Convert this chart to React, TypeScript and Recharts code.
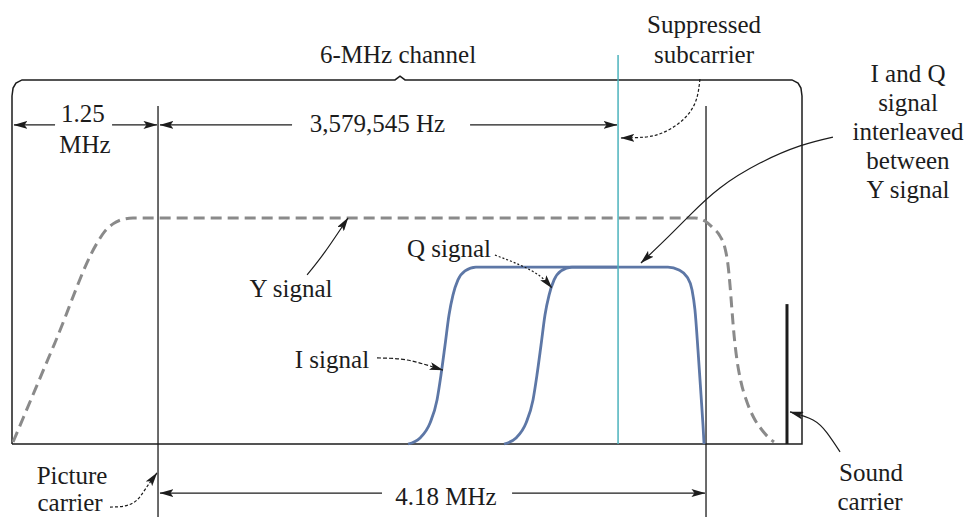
import React from "react";
import { ComposedChart, Line, Scatter, XAxis, YAxis } from "recharts";

type Pt = [number, number];

// x: frequency in MHz as drawn (0 = channel lower edge), y: relative amplitude
const lumaSignal: Pt[] = [
  [0.008, 0.009], [0.327, 0.449], [0.646, 0.889], [0.706, 0.942], [0.767, 0.974],
  [0.835, 0.993], [0.919, 1.0], [5.187, 1.0], [5.263, 0.987], [5.324, 0.956],
  [5.377, 0.92], [5.415, 0.867], [5.438, 0.792], [5.453, 0.704], [5.468, 0.593],
  [5.484, 0.482], [5.506, 0.372], [5.537, 0.274], [5.582, 0.186], [5.635, 0.115],
  [5.696, 0.062], [5.749, 0.027], [5.787, 0.009],
];

const iSignal: Pt[] = [
  [3.008, 0], [3.099, 0.027], [3.175, 0.093], [3.228, 0.195], [3.258, 0.305],
  [3.289, 0.438], [3.319, 0.571], [3.349, 0.659], [3.387, 0.726], [3.441, 0.766],
  [3.524, 0.783], [4.982, 0.783], [5.066, 0.77], [5.127, 0.739], [5.165, 0.681],
  [5.187, 0.593], [5.21, 0.416], [5.233, 0.217], [5.248, 0.084], [5.256, 0],
];

const qSignal: Pt[] = [
  [3.737, 0], [3.828, 0.027], [3.904, 0.093], [3.957, 0.195], [3.987, 0.305],
  [4.018, 0.438], [4.048, 0.571], [4.079, 0.659], [4.117, 0.726], [4.17, 0.766],
  [4.253, 0.783], [4.6, 0.783],
];

const channelFrame: Pt[] = [
  [0, 0], [0, 1.54], [0.008, 1.575], [0.03, 1.597], [0.076, 1.611], [2.909, 1.611],
  [2.947, 1.628], [2.985, 1.611], [5.924, 1.611], [5.97, 1.597], [5.992, 1.575],
  [6, 1.54], [6, 0], [0, 0],
];

const pictureCarrier: Pt[] = [[1.109, 1.496], [1.109, -0.323]];
const bandEdge: Pt[] = [[5.271, 1.496], [5.271, -0.323]];
const subcarrier: Pt[] = [[4.603, 0], [4.603, 1.721]];
const soundCarrier: Pt[] = [[5.886, 0], [5.886, 0.619]];

// dimension arrows (each runs from the label toward its tip)
const dimensionArrows: Pt[][] = [
  [[0.327, 1.412], [0.015, 1.412]],
  [[0.76, 1.412], [1.101, 1.412]],
  [[2.127, 1.412], [1.124, 1.412]],
  [[3.479, 1.412], [4.595, 1.412]],
  [[2.81, -0.217], [1.124, -0.217]],
  [[3.798, -0.217], [5.263, -0.217]],
];

// callout arrows
const subcarrierPointer: Pt[] = [
  [5.225, 1.615], [5.203, 1.535], [5.149, 1.469], [5.058, 1.416], [4.937, 1.376],
  [4.808, 1.358], [4.625, 1.354],
];
const interleavedPointer: Pt[] = [
  [6.235, 1.358], [5.985, 1.319], [5.681, 1.243], [5.377, 1.133], [5.149, 1.013],
  [4.96, 0.903], [4.777, 0.801],
];
const lumaPointer: Pt[] = [[2.241, 0.748], [2.377, 0.85], [2.552, 1.0]];
const qPointer: Pt[] = [[3.668, 0.836], [3.858, 0.792], [4.01, 0.743], [4.101, 0.69]];
const iPointer: Pt[] = [[2.772, 0.381], [2.947, 0.376], [3.099, 0.358], [3.273, 0.327]];
const picturePointer: Pt[] = [
  [0.744, -0.279], [0.858, -0.274], [0.949, -0.248], [1.018, -0.195], [1.101, -0.128],
];
const soundPointer: Pt[] = [[6.289, -0.035], [6.19, 0.049], [6.084, 0.106], [5.909, 0.142]];

const labels: { text: string; f: number; a: number }[] = [
  { text: "6-MHz channel", f: 2.932, a: 1.686 },
  { text: "1.25", f: 0.539, a: 1.425 },
  { text: "MHz", f: 0.554, a: 1.288 },
  { text: "3,579,545 Hz", f: 2.776, a: 1.381 },
  { text: "Suppressed", f: 5.256, a: 1.819 },
  { text: "subcarrier", f: 5.256, a: 1.686 },
  { text: "I and Q", f: 6.805, a: 1.602 },
  { text: "signal", f: 6.805, a: 1.474 },
  { text: "interleaved", f: 6.805, a: 1.345 },
  { text: "between", f: 6.805, a: 1.217 },
  { text: "Y signal", f: 6.805, a: 1.089 },
  { text: "Y signal", f: 2.119, a: 0.65 },
  { text: "Q signal", f: 3.319, a: 0.827 },
  { text: "I signal", f: 2.43, a: 0.336 },
  { text: "Picture", f: 0.456, a: -0.177 },
  { text: "carrier", f: 0.441, a: -0.296 },
  { text: "4.18 MHz", f: 3.296, a: -0.27 },
  { text: "Sound", f: 6.524, a: -0.164 },
  { text: "carrier", f: 6.517, a: -0.292 },
];

const W = 967;
const H = 517;
const X0 = 12;
const PX_PER_MHZ = 790 / 6;
const BASE = 444;
const PX_PER_AMP = 226;

const xDomain = [-X0 / PX_PER_MHZ, (W - X0) / PX_PER_MHZ];
const yDomain = [-(H - BASE) / PX_PER_AMP, BASE / PX_PER_AMP];

const rows = (pts: Pt[]) => pts.map(([f, a]) => ({ f, a }));

const INK = "#1c1c1c";
const FONT =
  '"Liberation Serif", Tinos, "Nimbus Roman", "Nimbus Roman No9 L", FreeSerif, "DejaVu Serif", "Noto Serif", Times, "Times New Roman", serif';

const TextMark = (props: any) => (
  <text
    x={props.cx}
    y={props.cy}
    textAnchor="middle"
    style={{ fontFamily: FONT, fontSize: 25, fill: INK }}
  >
    {props.payload.text}
  </text>
);

const seg = (key: string, pts: Pt[], extra: Record<string, any>) => (
  <Line
    key={key}
    data={rows(pts)}
    dataKey="a"
    type="linear"
    dot={false}
    activeDot={false}
    isAnimationActive={false}
    {...extra}
  />
);

export default function App() {
  const pointers: [string, Pt[], string | undefined][] = [
    ["sub", subcarrierPointer, "3 2"],
    ["iq", interleavedPointer, undefined],
    ["luma", lumaPointer, undefined],
    ["q", qPointer, "2 2"],
    ["i", iPointer, "4 2"],
    ["pic", picturePointer, "3 2"],
    ["snd", soundPointer, undefined],
  ];

  return (
    <div style={{ position: "absolute", left: 0, top: 0, background: "#fff" }}>
      <ComposedChart width={W} height={H} margin={{ top: 0, right: 0, bottom: 0, left: 0 }}>
        <defs>
          <marker
            id="tip"
            viewBox="0 0 14 8"
            refX="13.5"
            refY="4"
            markerWidth="14"
            markerHeight="8"
            markerUnits="userSpaceOnUse"
            orient="auto"
          >
            <path d="M0,0 L14,4 L0,8 L3,4 Z" fill={INK} />
          </marker>
        </defs>
        <XAxis type="number" dataKey="f" domain={xDomain} allowDataOverflow hide />
        <YAxis type="number" dataKey="a" domain={yDomain} allowDataOverflow hide />

        {seg("frame", channelFrame, { stroke: INK, strokeWidth: 1.5 })}
        {seg("pic", pictureCarrier, { stroke: INK, strokeWidth: 1.3 })}
        {seg("edge", bandEdge, { stroke: INK, strokeWidth: 1.3 })}

        <Line
          data={rows(lumaSignal)}
          dataKey="a"
          type="monotone"
          stroke="#8a8a8a"
          strokeWidth={3}
          strokeDasharray="11 6"
          dot={false}
          activeDot={false}
          isAnimationActive={false}
        />
        <Line
          data={rows(iSignal)}
          dataKey="a"
          type="monotone"
          stroke="#5d77a6"
          strokeWidth={2.8}
          dot={false}
          activeDot={false}
          isAnimationActive={false}
        />
        <Line
          data={rows(qSignal)}
          dataKey="a"
          type="monotone"
          stroke="#5d77a6"
          strokeWidth={2.8}
          dot={false}
          activeDot={false}
          isAnimationActive={false}
        />

        {seg("subc", subcarrier, { stroke: "#4cb3bd", strokeWidth: 1.5 })}
        {seg("snd", soundCarrier, { stroke: INK, strokeWidth: 3 })}

        {dimensionArrows.map((pts, i) =>
          seg(`dim${i}`, pts, { stroke: INK, strokeWidth: 1.3, markerEnd: "url(#tip)" })
        )}

        {pointers.map(([key, pts, dash]) => (
          <Line
            key={key}
            data={rows(pts)}
            dataKey="a"
            type="natural"
            stroke={INK}
            strokeWidth={1.2}
            strokeDasharray={dash}
            markerEnd="url(#tip)"
            dot={false}
            activeDot={false}
            isAnimationActive={false}
          />
        ))}

        <Scatter data={labels} dataKey="a" shape={TextMark} isAnimationActive={false} />
      </ComposedChart>
    </div>
  );
}
